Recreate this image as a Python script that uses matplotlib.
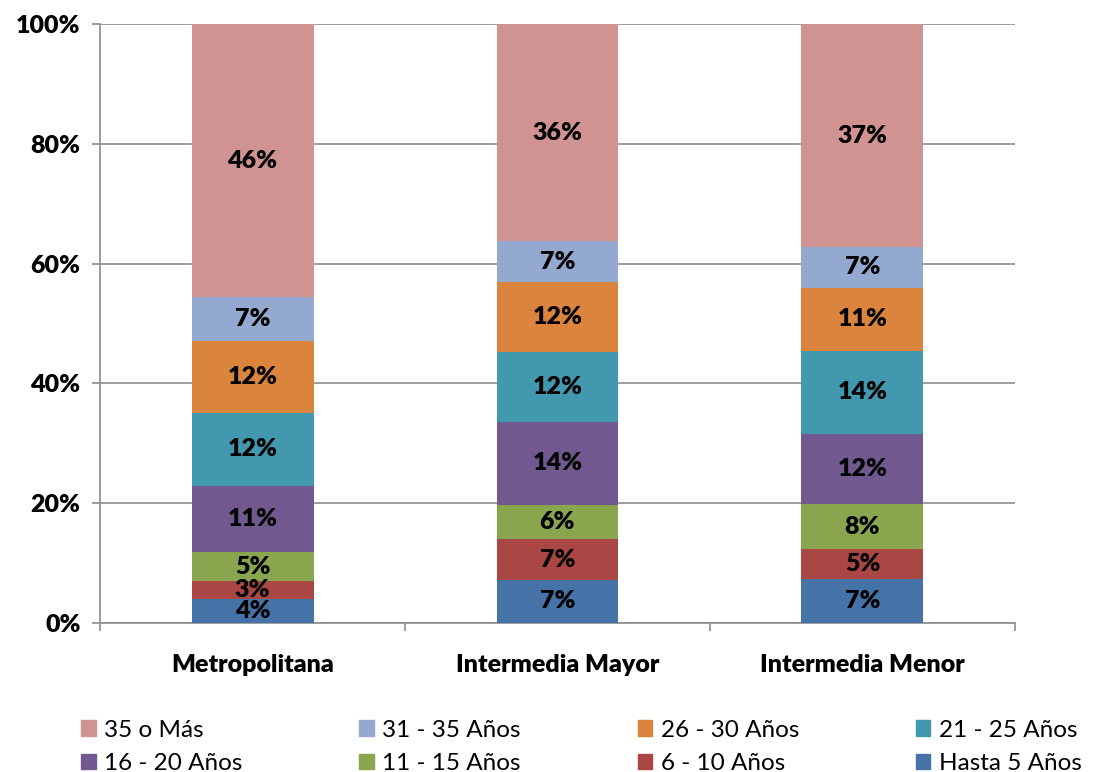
import numpy as np
import matplotlib.pyplot as plt
from matplotlib.patches import Patch
from matplotlib.ticker import PercentFormatter

plt.rcParams['font.family'] = ['Lato', 'DejaVu Sans']

regions = ['Metropolitana', 'Intermedia Mayor', 'Intermedia Menor']
groups = ['Hasta 5 Años', '6 - 10 Años', '11 - 15 Años', '16 - 20 Años',
          '21 - 25 Años', '26 - 30 Años', '31 - 35 Años', '35 o Más']
colors = ['#4572A7', '#AA4643', '#89A54E', '#71588F',
          '#4198AF', '#DB843D', '#93A9CF', '#D19392']

# share (%) per age group, bottom to top
metro = [4.0, 3.0, 4.8, 11.1, 12.2, 11.9, 7.4, 45.6]
mayor = [7.2, 6.8, 5.7, 13.9, 11.7, 11.6, 6.8, 36.3]
menor = [7.4, 4.9, 7.6, 11.7, 13.8, 10.6, 6.7, 37.3]

data = np.array([metro, mayor, menor]).T  # rows = groups

fig = plt.figure(figsize=(10.97, 7.72), dpi=100)
ax = fig.add_axes([0.0912, 0.193, 0.834, 0.776])

x = np.arange(len(regions))
bottom = np.zeros(len(regions))
for i, g in enumerate(groups):
    ax.bar(x, data[i], 0.4, bottom=bottom, color=colors[i], zorder=3)
    for xi, v, b in zip(x, data[i], bottom):
        ax.text(xi, b + v / 2, '%.0f%%' % v, ha='center', va='center',
                fontsize=18, fontweight='heavy', zorder=4)
    bottom += data[i]

ax.set_xlim(-0.5, 2.5)
ax.set_ylim(0, 100)
ax.set_yticks(np.arange(0, 101, 20))
ax.yaxis.set_major_formatter(PercentFormatter(decimals=0))
ax.yaxis.grid(True, color='#8c8c8c', linewidth=1.2, zorder=0)
for s in ['top', 'right']:
    ax.spines[s].set_visible(False)
for s in ['left', 'bottom']:
    ax.spines[s].set_color('#8c8c8c')
    ax.spines[s].set_linewidth(1.2)

ax.set_xticks(x)
ax.set_xticklabels(regions, fontsize=18, fontweight='heavy')
ax.set_xticks([-0.5, 0.5, 1.5, 2.5], minor=True)
ax.tick_params(axis='x', which='major', length=0, pad=22)
ax.tick_params(axis='x', which='minor', length=6, color='#8c8c8c', width=1.2)
ax.tick_params(axis='y', length=6, color='#8c8c8c', width=1.2,
               labelsize=18, pad=8)
for lab in ax.get_yticklabels():
    lab.set_fontweight('heavy')

order = [7, 3, 6, 2, 5, 1, 4, 0]
handles = [Patch(color=colors[i], label=groups[i]) for i in order]
fig.legend(handles=handles, ncol=4, loc='upper left',
           bbox_to_anchor=(0.074, 0.068), frameon=False, fontsize=17.5,
           borderpad=0, borderaxespad=0,
           handlelength=0.6, handleheight=0.6, handletextpad=0.35,
           columnspacing=4.8, labelspacing=0.52)

fig.savefig('out.png', dpi=100)
